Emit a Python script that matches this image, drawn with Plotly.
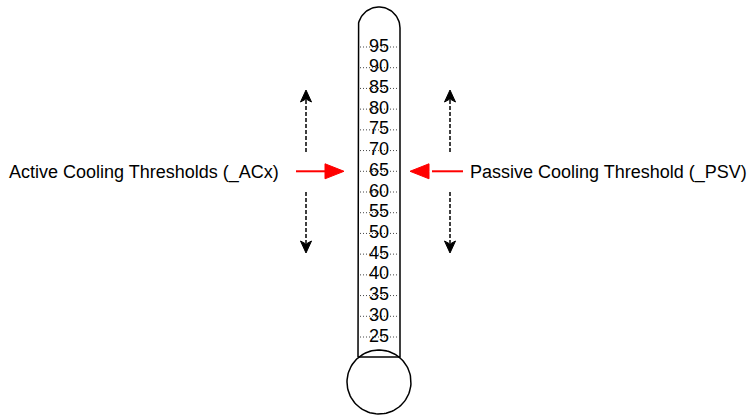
import numpy as np
import plotly.graph_objects as go

# temperature scale printed on the thermometer
TICK_VALUES = [25, 30, 35, 40, 45, 50, 55, 60, 65, 70, 75, 80, 85, 90, 95]
TICK_LABELS = [str(v) for v in TICK_VALUES]
THRESHOLD = 65          # where both red arrows point
ACTIVE_LABEL = "Active Cooling Thresholds (_ACx)"
PASSIVE_LABEL = "Passive Cooling Threshold (_PSV)"

W, H = 749, 416
DEG_PX = 290 / 70       # pixels per degree on the scale
# y axis is in degrees, x axis in pixels
Y_RANGE = [25 - (H - 337) / DEG_PX, 95 + 47 / DEG_PX]
X_RANGE = [0, W]
FONT = "Liberation Sans, Arial, sans-serif"


def ty(py):
    """pixel row -> degrees, only used for the drawing frame"""
    return Y_RANGE[1] - py / DEG_PX


def py_of(t):
    return (Y_RANGE[1] - t) * DEG_PX


fig = go.Figure()


def outline(xs, ys, color="black", width=1.5, dash=None, fill=None):
    fig.add_trace(go.Scatter(
        x=xs, y=ys, mode="lines", hoverinfo="skip", showlegend=False,
        line=dict(color=color, width=width, dash=dash),
        fill=fill, fillcolor=color if fill else None,
    ))


# tube with rounded cap
left, right, cx = 358, 400, 379
cap_cy, cap_ry = 28, 21
ang = np.linspace(np.pi, 0, 40)
tube_x = [left, left] + list(cx + 21 * np.cos(ang)) + [right, right, left]
tube_y = [357, cap_cy] + list(cap_cy - cap_ry * np.sin(ang)) + [cap_cy, 357, 357]
outline(tube_x, [ty(v) for v in tube_y])

# bulb, going the long way round through the bottom
b_cy, b_r = 382, 32
th = np.linspace(np.arctan2(b_cy - 357, -20), np.arctan2(b_cy - 357, 20) - 2 * np.pi, 120)
outline(cx + b_r * np.cos(th), [ty(v) for v in b_cy - b_r * np.sin(th)])

# dotted scale lines and labels
for t in TICK_VALUES:
    outline([360, 398], [t, t], color="#444444", width=1, dash="1px,2px")
fig.add_trace(go.Scatter(
    x=[cx] * len(TICK_VALUES), y=TICK_VALUES, text=TICK_LABELS, mode="text",
    textposition="middle center", hoverinfo="skip", showlegend=False,
    textfont=dict(family=FONT, size=18, color="black"),
))


def head(tip_x, tip_y, dx, dy, length, half, notch=0.0, color="black"):
    """filled arrow head; (dx, dy) unit direction in pixels"""
    px, py = -dy, dx
    bx, by = tip_x - dx * length, tip_y - dy * length
    nx, ny = tip_x - dx * length * (1 - notch), tip_y - dy * length * (1 - notch)
    xs = [tip_x, bx + px * half, nx, bx - px * half, tip_x]
    ys = [tip_y, by + py * half, ny, by - py * half, tip_y]
    outline(xs, [ty(v) for v in ys], color=color, width=1, fill="toself")


# red arrows to the threshold
ty_thr = py_of(THRESHOLD)
outline([296, 326], [THRESHOLD, THRESHOLD], color="#ff0000", width=2)
head(344, ty_thr, 1, 0, 19, 7.5, color="#ff0000")
outline([432, 463], [THRESHOLD, THRESHOLD], color="#ff0000", width=2)
head(410, ty_thr, -1, 0, 19, 7.5, color="#ff0000")

# dashed "moves up / down" arrows
for ax in (306, 450):
    outline([ax, ax], [ty(152), ty(100)], width=1.5, dash="4px,2px")
    head(ax, 90, 0, -1, 12, 5.5, notch=0.25)
    outline([ax, ax], [ty(192), ty(243)], width=1.5, dash="4px,2px")
    head(ax, 253, 0, 1, 12, 5.5, notch=0.25)

fig.add_annotation(x=281, y=ty(172), text=ACTIVE_LABEL, showarrow=False,
                   xanchor="right", yanchor="middle",
                   font=dict(family=FONT, size=18, color="black"))
fig.add_annotation(x=468, y=ty(172), text=PASSIVE_LABEL, showarrow=False,
                   xanchor="left", yanchor="middle",
                   font=dict(family=FONT, size=18, color="black"))

fig.update_layout(
    width=W, height=H,
    margin=dict(l=0, r=0, t=0, b=0),
    paper_bgcolor="white", plot_bgcolor="white",
    xaxis=dict(range=X_RANGE, visible=False, fixedrange=True),
    yaxis=dict(range=Y_RANGE, visible=False, fixedrange=True),
    showlegend=False,
)

# drop the default body margin so the figure fills the window exactly
fig.write_html("out.html", config={"displayModeBar": False},
               post_script="document.body.style.margin = '0';")
